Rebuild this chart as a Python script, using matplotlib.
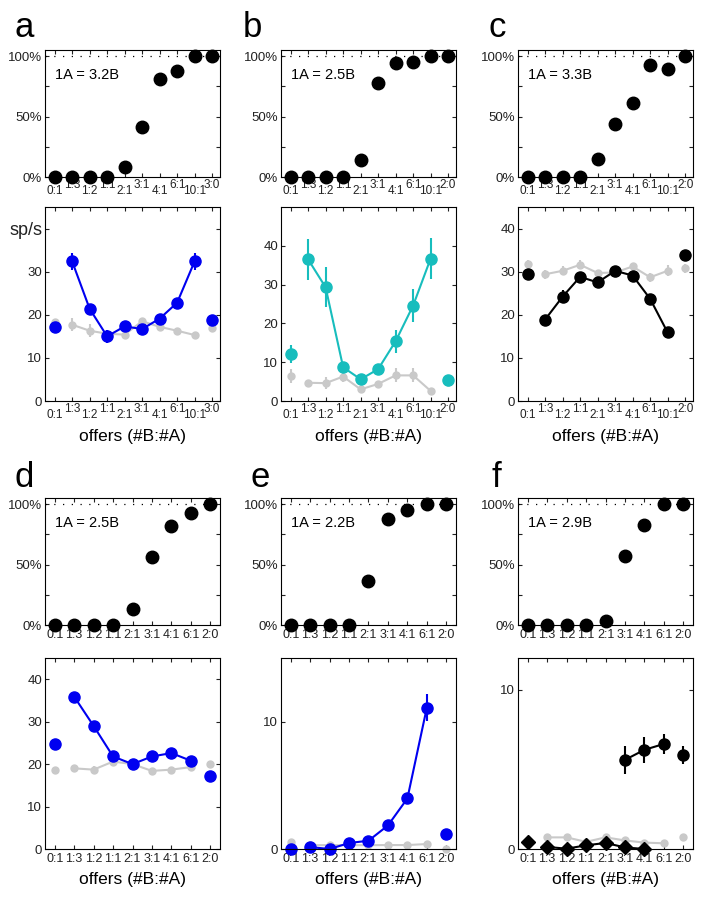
import numpy as np
import matplotlib.pyplot as plt

plt.rcParams['font.family'] = ['Liberation Sans', 'DejaVu Sans']

nan = np.nan

# offer types (x categories)
offers_a = ['0:1', '1:3', '1:2', '1:1', '2:1', '3:1', '4:1', '6:1', '10:1', '3:0']
offers_bc = ['0:1', '1:3', '1:2', '1:1', '2:1', '3:1', '4:1', '6:1', '10:1', '2:0']
offers_def = ['0:1', '1:3', '1:2', '1:1', '2:1', '3:1', '4:1', '6:1', '2:0']

relative_values = ['1A = 3.2B', '1A = 2.5B', '1A = 3.3B', '1A = 2.5B', '1A = 2.2B', '1A = 2.9B']
panel_letters = ['a', 'b', 'c', 'd', 'e', 'f']

# % of choices of B
choice_a = [0, 0, 0, 0, 8, 41, 81, 88, 100, 100]
choice_b = [0, 0, 0, 0, 14, 78, 94, 95, 100, 100]
choice_c = [0, 0, 0, 0, 15, 44, 61, 93, 89, 100]
choice_d = [0, 0, 0, 0, 13, 56, 82, 93, 100]
choice_e = [0, 0, 0, 0, 36, 88, 95, 100, 100]
choice_f = [0, 0, 0, 0, 3, 57, 83, 100, 100]

# firing rates (sp/s), coloured series and grey series
rate_a = [17.1, 32.4, 21.4, 15.0, 17.3, 16.7, 19.1, 22.8, 32.4, 18.9]
err_a = [0.5, 2.0, 1.0, 1.5, 0.8, 0.8, 0.8, 0.8, 2.0, 0.5]
gray_a = [18.4, 17.7, 16.3, 15.6, 15.4, 18.5, 17.2, 16.3, 15.3, 17.0]
gerr_a = [0.6, 1.5, 1.5, 0.8, 0.6, 0.8, 0.8, 0.5, 0.5, 0.6]

rate_b = [12.1, 36.5, 29.3, 8.7, 5.6, 8.2, 15.4, 24.6, 36.7, 5.3]
err_b = [2.3, 5.2, 5.2, 1.0, 0.8, 1.2, 2.9, 4.2, 5.2, 0.0]
gray_b = [6.5, 4.7, 4.6, 6.3, 3.0, 4.4, 6.6, 6.6, 2.6, 4.8]
gerr_b = [1.8, 0.6, 1.5, 1.5, 0.6, 0.6, 1.8, 1.8, 0.5, 0.5]

rate_c = [29.5, 18.9, 24.2, 28.8, 27.5, 30.2, 29.1, 23.7, 15.9, 33.8]
err_c = [0.5, 1.0, 1.5, 1.0, 0.6, 0.6, 0.6, 0.6, 0.5, 0.6]
gray_c = [31.8, 29.4, 30.2, 31.6, 29.7, 29.8, 31.2, 28.7, 30.2, 30.8]
gerr_c = [0.8, 1.0, 1.0, 1.0, 0.8, 0.8, 0.8, 1.0, 1.3, 1.0]

rate_d = [24.8, 35.9, 29.0, 21.8, 20.0, 21.8, 22.6, 20.8, 17.3]
err_d = [0.5, 0.6, 0.8, 0.6, 0.5, 0.5, 0.6, 0.5, 0.5]
gray_d = [18.7, 19.0, 18.7, 20.6, 20.0, 18.4, 18.7, 19.3, 20.0]
gerr_d = [0.5, 0.6, 0.8, 0.5, 0.5, 0.5, 0.6, 0.5, 0.5]

rate_e = [0.0, 0.15, 0.0, 0.47, 0.65, 1.85, 3.97, 11.1, 1.17]
err_e = [0.05, 0.05, 0.05, 0.1, 0.1, 0.15, 0.2, 1.05, 0.1]
gray_e = [0.52, 0.3, 0.3, 0.3, 0.3, 0.31, 0.31, 0.39, 0.03]
gerr_e = [0.1, 0.05, 0.05, 0.05, 0.05, 0.05, 0.05, 0.05, 0.05]

rate_f_hi = [nan, nan, nan, nan, nan, 5.6, 6.23, 6.6, 5.9]
err_f_hi = [0, 0, 0, 0, 0, 0.88, 0.8, 0.6, 0.55]
rate_f_lo = [0.42, 0.13, 0.02, 0.23, 0.38, 0.1, 0.0, nan, nan]
err_f_lo = [0.05] * 9
gray_f = [0.5, 0.73, 0.73, 0.45, 0.73, 0.54, 0.4, 0.36, 0.75]
gerr_f = [0.05] * 9

BLUE = '#0000f0'
TEAL = '#17bdbd'
GRAY = '#c9c9c9'

fig = plt.figure(figsize=(7.08, 9.02), dpi=100)


def px_axes(left, top, w, h):
    return fig.add_axes([left / 708, 1 - (top + h) / 902, w / 708, h / 902])


def style_x(ax, labels, staggered):
    pos = np.arange(1, len(labels) + 1)
    ax.tick_params(which='both', direction='in', top=True, right=True,
                   length=3, width=0.8, labelsize=9.5, colors='#222222')
    if staggered:
        ax.set_xticks(pos[0::2], labels[0::2])
        ax.set_xticks(pos[1::2], labels[1::2], minor=True)
        ax.tick_params(axis='x', which='major', pad=5.5, labelsize=8.5)
        ax.tick_params(axis='x', which='minor', pad=1.5, labelsize=8.5)
        ax.set_xlim(0.45, len(labels) + 0.45)
    else:
        ax.set_xticks(pos, labels)
        ax.tick_params(axis='x', pad=3, labelsize=9)
        ax.set_xlim(0.5, len(labels) + 0.5)
    ax.tick_params(axis='y', pad=2)
    for s in ax.spines.values():
        s.set_linewidth(0.8)


def draw_series(ax, y, err, color, ms, marker='o', lw=1.5):
    pos = np.arange(1, len(y) + 1)
    y = np.asarray(y, float)
    ax.errorbar(pos, y, yerr=err, fmt='none', ecolor=color, elinewidth=lw, capsize=0)
    ax.plot(pos[1:-1], y[1:-1], '-', color=color, lw=lw)
    ax.plot(pos, y, marker, color=color, ms=ms, ls='none', clip_on=False)


choices = [choice_a, choice_b, choice_c, choice_d, choice_e, choice_f]
offers = [offers_a, offers_bc, offers_bc, offers_def, offers_def, offers_def]
col_left = [45, 281, 518]
letter_x = [15, 243, 488, 15, 250, 492]

for i in range(6):
    row, col = divmod(i, 3)
    top_y = 50 if row == 0 else 498
    bot_y = 207 if row == 0 else 658
    bot_h = 194 if row == 0 else 191
    stag = row == 0

    # choice pattern
    ax = px_axes(col_left[col], top_y, 175, 127)
    pos = np.arange(1, len(offers[i]) + 1)
    ax.axhline(100, ls=(0, (1, 6)), color='k', lw=0.9)
    ax.plot(pos, choices[i], 'o', color='k', ms=9, clip_on=False, zorder=3)
    ax.set_ylim(0, 105)
    ax.set_yticks([0, 25, 50, 75, 100], ['0%', '', '50%', '', '100%'])
    style_x(ax, offers[i], stag)
    ax.text(0.055, 0.80, relative_values[i], transform=ax.transAxes,
            fontsize=10.5, va='center', ha='left')
    fig.text(letter_x[i] / 708, 1 - (37 if row == 0 else 487) / 902,
             panel_letters[i], fontsize=25, va='baseline', ha='left')

    # neuronal response
    ax2 = px_axes(col_left[col], bot_y, 175, bot_h)
    if i == 0:
        draw_series(ax2, gray_a, gerr_a, GRAY, 5)
        draw_series(ax2, rate_a, err_a, BLUE, 8)
        ax2.set_ylim(0, 45)
        ax2.set_yticks([0, 10, 20, 30, 40], ['0', '10', '20', '30', 'sp/s'])
    elif i == 1:
        draw_series(ax2, gray_b, gerr_b, GRAY, 5)
        draw_series(ax2, rate_b, err_b, TEAL, 8)
        ax2.set_ylim(0, 50)
        ax2.set_yticks([0, 10, 20, 30, 40])
    elif i == 2:
        draw_series(ax2, gray_c, gerr_c, GRAY, 5)
        draw_series(ax2, rate_c, err_c, 'k', 8)
        ax2.set_ylim(0, 45)
        ax2.set_yticks([0, 10, 20, 30, 40])
    elif i == 3:
        draw_series(ax2, gray_d, gerr_d, GRAY, 5)
        draw_series(ax2, rate_d, err_d, BLUE, 8)
        ax2.set_ylim(0, 45)
        ax2.set_yticks([0, 10, 20, 30, 40])
    elif i == 4:
        draw_series(ax2, gray_e, gerr_e, GRAY, 5)
        draw_series(ax2, rate_e, err_e, BLUE, 8)
        ax2.set_ylim(0, 15)
        ax2.set_yticks([0, 10])
    else:
        draw_series(ax2, gray_f, gerr_f, GRAY, 5)
        draw_series(ax2, rate_f_lo, err_f_lo, 'k', 7.5, marker='D')
        draw_series(ax2, rate_f_hi, err_f_hi, 'k', 8)
        ax2.set_ylim(0, 12)
        ax2.set_yticks([0, 10])
    style_x(ax2, offers[i], stag)
    if i == 0:
        ax2.get_yticklabels()[-1].set_fontsize(13)
    ax2.set_xlabel('offers (#B:#A)', fontsize=12.5, labelpad=6 if stag else 5)

fig.savefig('out.png', dpi=100)
